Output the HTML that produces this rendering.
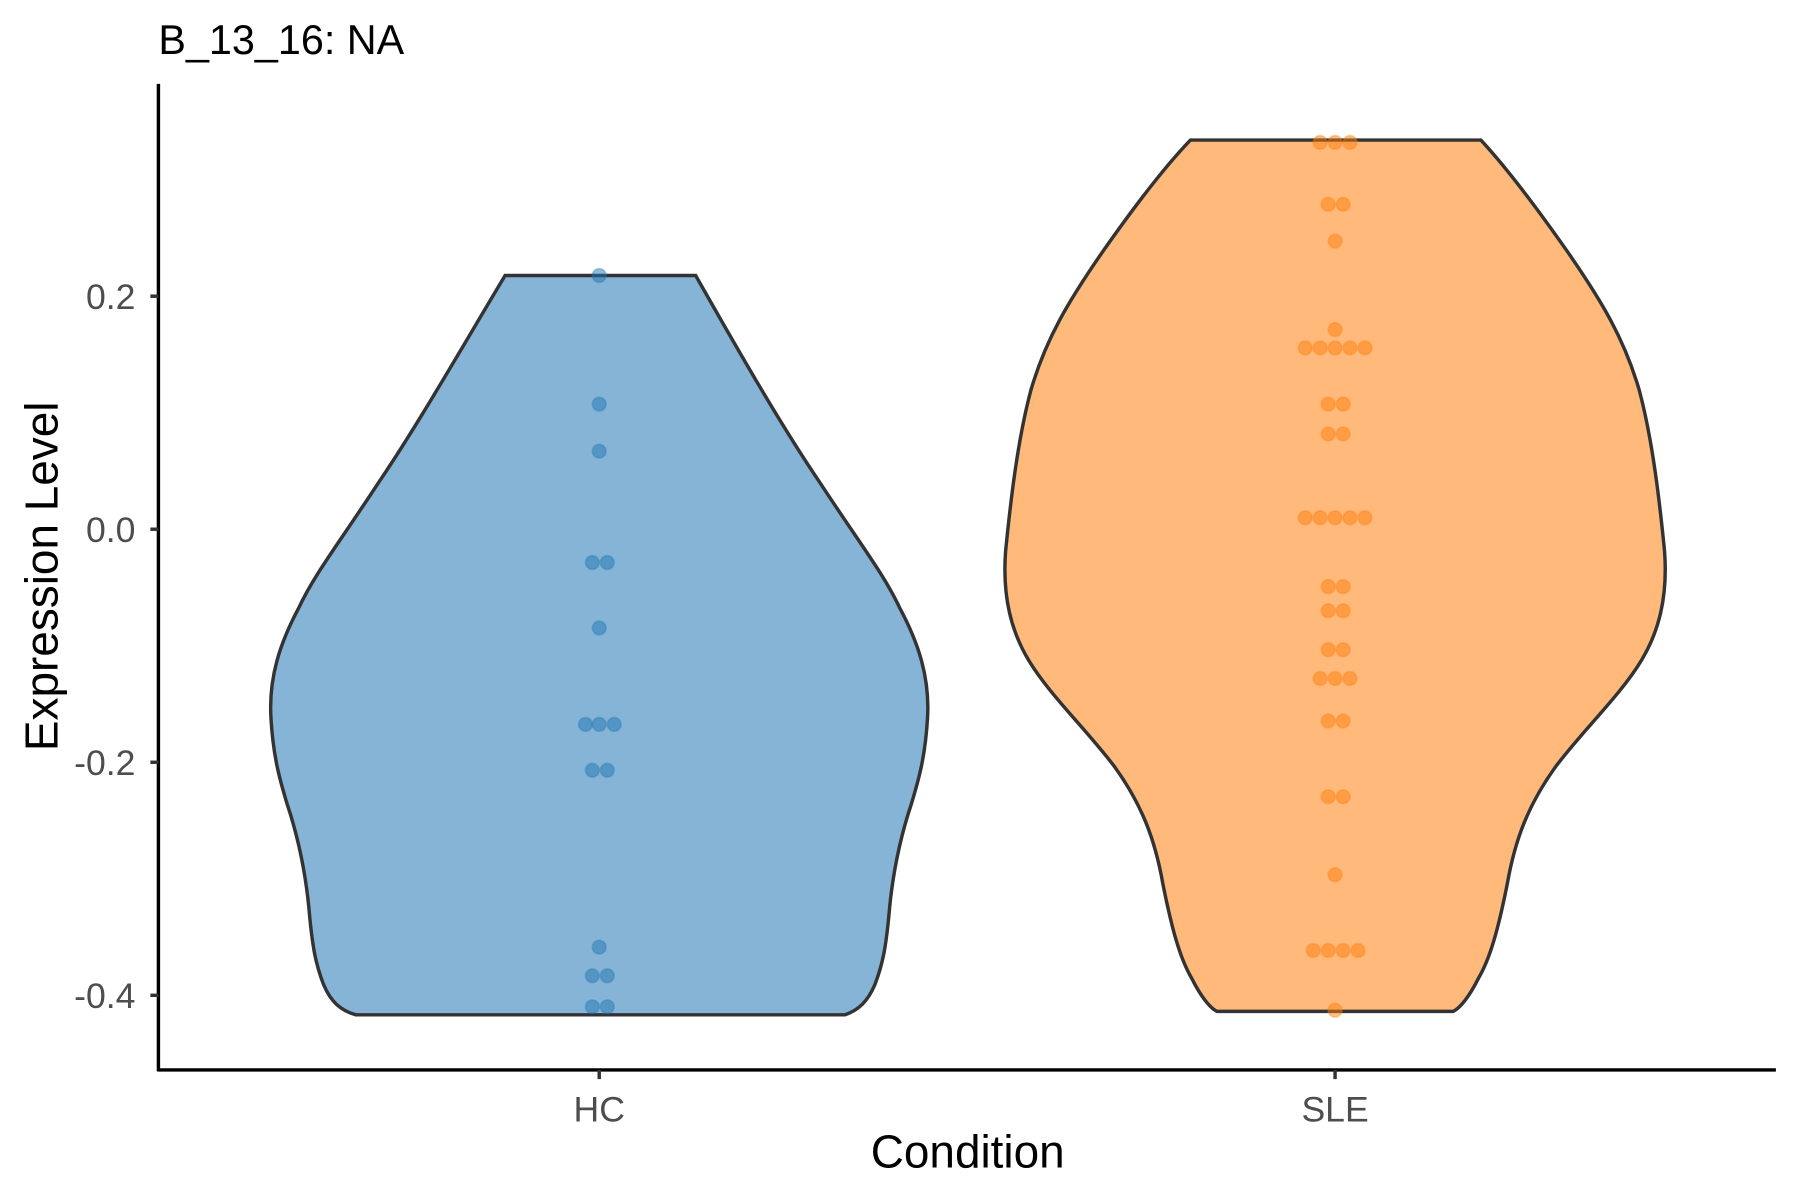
<!DOCTYPE html>
<html><head><meta charset="utf-8"><style>
html,body{margin:0;padding:0;background:#fff;}
svg{display:block;}
text{font-family:"Liberation Sans",Arial,sans-serif;}
</style></head><body>
<svg width="1800" height="1200" viewBox="0 0 1568 1045.3" xmlns="http://www.w3.org/2000/svg">
<rect width="1568" height="1046" fill="#fff"/>
<text x="138" y="47" font-size="36" fill="#000">B_13_16: NA</text>
<!-- HC violin -->
<path d="M440,240 L606,240 C640,300 680,370 714,420 C750,475 770,500 784,530 C800,560 810,590 808,625 C806,660 800,680 794,700 C784,730 778,760 775,790 C772,825 769,840 762,858 C756,872 748,880 736,884 L310,884 C296,880 288,872 282,858 C275,840 272,825 269,790 C266,760 260,730 250,700 C244,680 238,660 236,625 C234,590 244,560 260,530 C274,500 294,475 330,420 C364,370 404,300 440,240 Z" fill="#86b4d7" stroke="#333" stroke-width="3"/>
<!-- SLE violin -->
<path d="M1037,122 L1290,122 C1316,150 1345,190 1366,220 C1395,262 1415,295 1428,340 C1440,385 1446,440 1450,480 C1453,520 1445,550 1430,575 C1412,605 1380,635 1355,668 C1332,700 1320,730 1313,770 C1305,810 1298,835 1288,852 C1280,868 1272,878 1266,881 L1060,881 C1054,878 1046,868 1038,852 C1028,835 1021,810 1013,770 C1006,730 994,700 971,668 C946,635 914,605 896,575 C881,550 873,520 876,480 C880,440 886,385 898,340 C911,295 931,262 960,220 C981,190 1010,150 1037,122 Z" fill="#ffb97a" stroke="#333" stroke-width="3"/>
<g fill="#1f77b4" fill-opacity="0.5" stroke="#1f77b4" stroke-opacity="0.3" stroke-width="1.5">
<circle cx="522" cy="240" r="6"/><circle cx="522" cy="352" r="6"/><circle cx="522" cy="393" r="6"/>
<circle cx="516" cy="490" r="6"/><circle cx="529" cy="490" r="6"/><circle cx="522" cy="547" r="6"/>
<circle cx="510" cy="631" r="6"/><circle cx="522" cy="631" r="6"/><circle cx="535" cy="631" r="6"/>
<circle cx="516" cy="671" r="6"/><circle cx="529" cy="671" r="6"/><circle cx="522" cy="825" r="6"/>
<circle cx="516" cy="850" r="6"/><circle cx="529" cy="850" r="6"/><circle cx="516" cy="877" r="6"/><circle cx="529" cy="877" r="6"/>
</g>
<g fill="#ff7f0e" fill-opacity="0.5" stroke="#ff7f0e" stroke-opacity="0.3" stroke-width="1.5">
<circle cx="1150" cy="124" r="6"/><circle cx="1163" cy="124" r="6"/><circle cx="1176" cy="124" r="6"/>
<circle cx="1157" cy="178" r="6"/><circle cx="1170" cy="178" r="6"/><circle cx="1163" cy="210" r="6"/>
<circle cx="1163" cy="287" r="6"/>
<circle cx="1137" cy="303" r="6"/><circle cx="1150" cy="303" r="6"/><circle cx="1163" cy="303" r="6"/><circle cx="1176" cy="303" r="6"/><circle cx="1189" cy="303" r="6"/>
<circle cx="1157" cy="352" r="6"/><circle cx="1170" cy="352" r="6"/>
<circle cx="1157" cy="378" r="6"/><circle cx="1170" cy="378" r="6"/>
<circle cx="1137" cy="451" r="6"/><circle cx="1150" cy="451" r="6"/><circle cx="1163" cy="451" r="6"/><circle cx="1176" cy="451" r="6"/><circle cx="1189" cy="451" r="6"/>
<circle cx="1157" cy="511" r="6"/><circle cx="1170" cy="511" r="6"/>
<circle cx="1157" cy="532" r="6"/><circle cx="1170" cy="532" r="6"/>
<circle cx="1157" cy="566" r="6"/><circle cx="1170" cy="566" r="6"/>
<circle cx="1150" cy="591" r="6"/><circle cx="1163" cy="591" r="6"/><circle cx="1176" cy="591" r="6"/>
<circle cx="1157" cy="628" r="6"/><circle cx="1170" cy="628" r="6"/>
<circle cx="1157" cy="694" r="6"/><circle cx="1170" cy="694" r="6"/>
<circle cx="1163" cy="762" r="6"/>
<circle cx="1144" cy="828" r="6"/><circle cx="1157" cy="828" r="6"/><circle cx="1170" cy="828" r="6"/><circle cx="1183" cy="828" r="6"/>
<circle cx="1163" cy="880" r="6"/>
</g>
<!-- axes -->
<line x1="138" y1="73" x2="138" y2="933" stroke="#000" stroke-width="3"/>
<line x1="137" y1="932" x2="1547" y2="932" stroke="#000" stroke-width="3"/>
<g stroke="#333" stroke-width="3">
<line x1="131" y1="258" x2="138" y2="258"/><line x1="131" y1="461" x2="138" y2="461"/>
<line x1="131" y1="664" x2="138" y2="664"/><line x1="131" y1="867" x2="138" y2="867"/>
<line x1="522" y1="932" x2="522" y2="940"/><line x1="1163" y1="932" x2="1163" y2="940"/>
</g>
<g font-size="31" fill="#4d4d4d" text-anchor="end">
<text x="118" y="269">0.2</text><text x="118" y="472">0.0</text>
<text x="118" y="675">-0.2</text><text x="118" y="878">-0.4</text>
</g>
<g font-size="31" fill="#4d4d4d" text-anchor="middle">
<text x="522" y="977">HC</text><text x="1163" y="977">SLE</text>
</g>
<text x="843" y="1017" font-size="40" text-anchor="middle" fill="#000">Condition</text>
<text transform="translate(50,502) rotate(-90)" font-size="40" text-anchor="middle" fill="#000">Expression Level</text>
</svg>
</body></html>
